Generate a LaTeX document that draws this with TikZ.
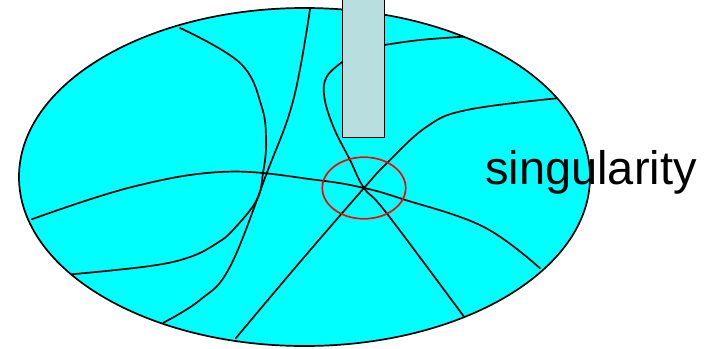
\documentclass[tikz,border=0pt]{standalone}
\usepackage{fontspec}
\setmainfont{Liberation Sans}
\begin{document}
\begin{tikzpicture}[x=1pt,y=-1pt, line join=round, line cap=round,
	curve/.style={line width=1.7pt, smooth, tension=0.65}]
	\def\cx{304.5} \def\cy{177} \def\rx{285.5} \def\ry{169}
	\useasboundingbox (0,0) rectangle (717,348);
	\definecolor{probe}{RGB}{185,222,224}
	\definecolor{disc}{RGB}{0,255,255}
	\fill[disc] (\cx,\cy) ellipse [x radius=\rx, y radius=\ry];
	\coordinate (sing) at (364,188);
	% field lines
	\draw[curve] plot coordinates {(180,28) (240,63) (261.7,106.7) (266,143) (263,173) (256.7,200) (233,230) (216.7,243.3) (190,257) (150,266) (71.7,274.3)};
	\draw[curve] plot coordinates {(310,9.3) (293.3,100) (266.7,173.3) (230,266.7) (200,300) (163.3,322.7)};
	\draw[curve] plot coordinates {(31.7,219.3) (133,186.7) (226.7,171.7) (316.7,180) (sing) (403.3,199.3) (483.3,226.7) (540,268.3)};
	\draw[curve] plot coordinates {(235.7,338.3) (300,262) (sing) (386.7,163.3) (426.7,126.7) (466.7,110) (556.7,98.3)};
	\draw[curve] plot coordinates {(342.7,61.7) (326.7,76.7) (324.3,96.7) (333.3,126.7) (350,160) (sing) (386.7,213.3) (464,316.7)};
	\draw[curve] plot coordinates {(384.3,45) (420,40) (463.3,36.7)};
	\draw[line width=1.7pt] (\cx,\cy) ellipse [x radius=\rx, y radius=\ry];
	% probe
	\draw[line width=1.5pt, fill=probe] (342.7,-2) rectangle (384.3,137.7);
	\draw[red, line width=1.7pt] (sing) ellipse [x radius=41.7, y radius=30.8];
	\node[anchor=base west, inner sep=0pt, font=\fontsize{47}{50}\selectfont] (label) at (485,184) {singularity};
\end{tikzpicture}
\end{document}
